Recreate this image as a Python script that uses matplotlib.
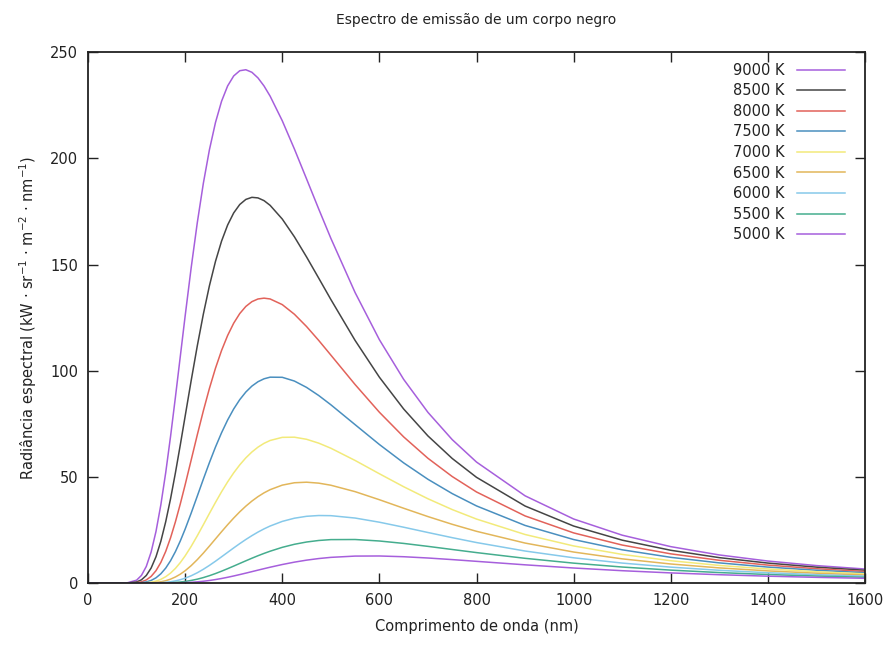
import matplotlib
matplotlib.use("Agg")
import matplotlib.pyplot as plt

wavelength_nm = [0, 50, 80, 100, 110, 120, 130, 140, 150, 160, 170, 180, 190, 200, 212.5, 225,
                 237.5, 250, 262.5, 275, 287.5, 300, 312.5, 325, 337.5, 350, 362.5, 375,
                 400, 425, 450, 475, 500, 550, 600, 650, 700, 750, 800, 900, 1000, 1100,
                 1200, 1300, 1400, 1500, 1600]

r9000 = [0, 0, 0.076, 1.36, 3.61, 7.84, 14.64, 24.33, 36.89, 52.00, 69.13, 87.58, 106.67, 125.73,
         148.62, 169.67, 188.27, 204.06, 216.92, 226.91, 234.13, 238.84, 241.30, 241.76, 240.56,
         237.91, 234.10, 229.33, 217.74, 204.43, 190.37, 176.21, 162.41, 136.82, 114.63, 95.94,
         80.40, 67.56, 57.00, 41.10, 30.18, 22.56, 17.16, 13.25, 10.38, 8.24, 6.62]
r8500 = [0, 0, 0.024, 0.53, 1.53, 3.58, 7.10, 12.42, 19.71, 28.90, 39.75, 51.94, 65.02, 78.55,
         95.46, 111.67, 126.66, 140.02, 151.51, 161.05, 168.63, 174.33, 178.30, 180.69, 181.67,
         181.40, 180.11, 177.90, 171.45, 163.08, 153.61, 143.64, 133.59, 114.28, 96.96, 81.99,
         69.30, 58.68, 49.81, 36.29, 26.86, 20.21, 15.45, 11.98, 9.42, 7.50, 6.04]
r8000 = [0, 0, 0.006, 0.18, 0.59, 1.48, 3.15, 5.84, 9.73, 14.91, 21.34, 28.86, 37.26, 46.28,
         58.01, 69.78, 81.11, 91.67, 101.20, 109.54, 116.61, 122.40, 126.94, 130.29, 132.54,
         133.80, 134.19, 133.81, 131.15, 126.61, 120.83, 114.30, 107.39, 93.50, 80.46, 68.85,
         58.77, 50.18, 42.91, 31.63, 23.63, 17.91, 13.77, 10.73, 8.47, 6.77, 5.47]
r7500 = [0, 0, 0.001, 0.056, 0.197, 0.546, 1.25, 2.48, 4.38, 7.05, 10.54, 14.82, 19.82, 25.41,
         33.00, 40.95, 48.95, 56.73, 64.07, 70.80, 76.80, 82.01, 86.40, 89.98, 92.78,
         94.83, 96.21, 96.97, 96.91, 95.15, 92.16, 88.35, 83.99, 74.61, 65.27, 56.61,
         48.88, 42.14, 36.34, 27.15, 20.50, 15.67, 12.13, 9.51, 7.54, 6.05, 4.90]
r7000 = [0, 0, 0.0003, 0.014, 0.057, 0.174, 0.436, 0.931, 1.76, 3.00, 4.71, 6.92, 9.64, 12.81,
         17.31, 22.27, 27.48, 32.79, 38.00, 43.00, 47.66, 51.91, 55.68, 58.97, 61.74,
         64.02, 65.82, 67.16, 68.63, 68.71, 67.72, 65.91, 63.52, 57.75, 51.49, 45.38,
         39.71, 34.62, 30.15, 22.88, 17.49, 13.50, 10.53, 8.31, 6.63, 5.34, 4.35]
r6500 = [0, 0, 0, 0.003, 0.014, 0.047, 0.129, 0.301, 0.612, 1.11, 1.86, 2.88, 4.19, 5.81,
         8.23, 11.03, 14.12, 17.42, 20.81, 24.19, 27.49, 30.63, 33.56, 36.23, 38.62,
         40.71, 42.50, 43.99, 46.13, 47.25, 47.51, 47.07, 46.09, 43.06, 39.26, 35.24,
         31.32, 27.68, 24.38, 18.85, 14.62, 11.41, 8.99, 7.15, 5.74, 4.65, 3.80]
r6000 = [0, 0, 0, 0.0005, 0.0025, 0.010, 0.031, 0.081, 0.179, 0.352, 0.627, 1.03, 1.59, 2.31,
         3.45, 4.86, 6.50, 8.33, 10.30, 12.37, 14.47, 16.56, 18.59, 20.53, 22.34,
         24.02, 25.53, 26.87, 29.05, 30.55, 31.45, 31.82, 31.75, 30.63, 28.67, 26.31,
         23.82, 21.39, 19.09, 15.10, 11.91, 9.42, 7.51, 6.02, 4.87, 3.97, 3.27]
r5500 = [0, 0, 0, 0, 0.0004, 0.0016, 0.0058, 0.017, 0.042, 0.090, 0.174, 0.308, 0.504, 0.777,
         1.24, 1.84, 2.59, 3.48, 4.49, 5.60, 6.78, 8.00, 9.25, 10.49, 11.71,
         12.88, 13.98, 15.01, 16.83, 18.27, 19.34, 20.06, 20.47, 20.52, 19.82, 18.68,
         17.29, 15.82, 14.36, 11.66, 9.39, 7.56, 6.10, 4.95, 4.04, 3.32, 2.75]
r5000 = [0, 0, 0, 0, 0, 0, 0.0008, 0.0026, 0.0073, 0.018, 0.037, 0.072, 0.127, 0.210,
         0.362, 0.577, 0.862, 1.22, 1.66, 2.16, 2.73, 3.35, 4.01, 4.69, 5.39,
         6.10, 6.79, 7.47, 8.74, 9.86, 10.80, 11.55, 12.11, 12.71, 12.76, 12.41,
         11.81, 11.06, 10.24, 8.60, 7.10, 5.83, 4.79, 3.94, 3.25, 2.70, 2.25]

labels = ["9000 K", "8500 K", "8000 K", "7500 K", "7000 K", "6500 K", "6000 K", "5500 K", "5000 K"]
series = [r9000, r8500, r8000, r7500, r7000, r6500, r6000, r5500, r5000]
colors = ["#a65fdc", "#454545", "#e2625a", "#4a8fbf", "#f2ea7a", "#e2b65a",
          "#86c9ea", "#45ad8e", "#a65fdc"]

x_ticks = [0, 200, 400, 600, 800, 1000, 1200, 1400, 1600]
y_ticks = [0, 50, 100, 150, 200, 250]

fig = plt.figure(figsize=(8.89, 6.45), dpi=100)
ax = fig.add_axes([0.099, 0.096, 0.874, 0.823])

for vals, lab, col in zip(series, labels, colors):
    ax.plot(wavelength_nm, vals, color=col, lw=1.1, label=lab)

ax.set_xlim(0, 1600)
ax.set_ylim(0, 250)
ax.set_xticks(x_ticks)
ax.set_yticks(y_ticks)
ax.tick_params(direction="in", top=True, right=True, length=7, width=1,
               labelsize=10.5, colors="#222222", pad=7)
for s in ax.spines.values():
    s.set_linewidth(1.3)
    s.set_color("#222222")

ax.set_title("Espectro de emissão de um corpo negro", fontsize=10, pad=20, color="#222222")
ax.set_xlabel("Comprimento de onda (nm)", fontsize=10.5, labelpad=8, color="#222222")
ax.set_ylabel(r"Radiância espectral (kW · sr$^{-1}$ · m$^{-2}$ · nm$^{-1}$)", fontsize=10.5,
              labelpad=8, color="#222222")

leg = ax.legend(loc="upper right", bbox_to_anchor=(0.9936, 1.0075), frameon=False,
                markerfirst=False, fontsize=10.5, handlelength=3.3, handletextpad=0.9,
                labelspacing=0.38, borderaxespad=0.6)
for t in leg.get_texts():
    t.set_color("#222222")

fig.savefig("out.png", dpi=100)
